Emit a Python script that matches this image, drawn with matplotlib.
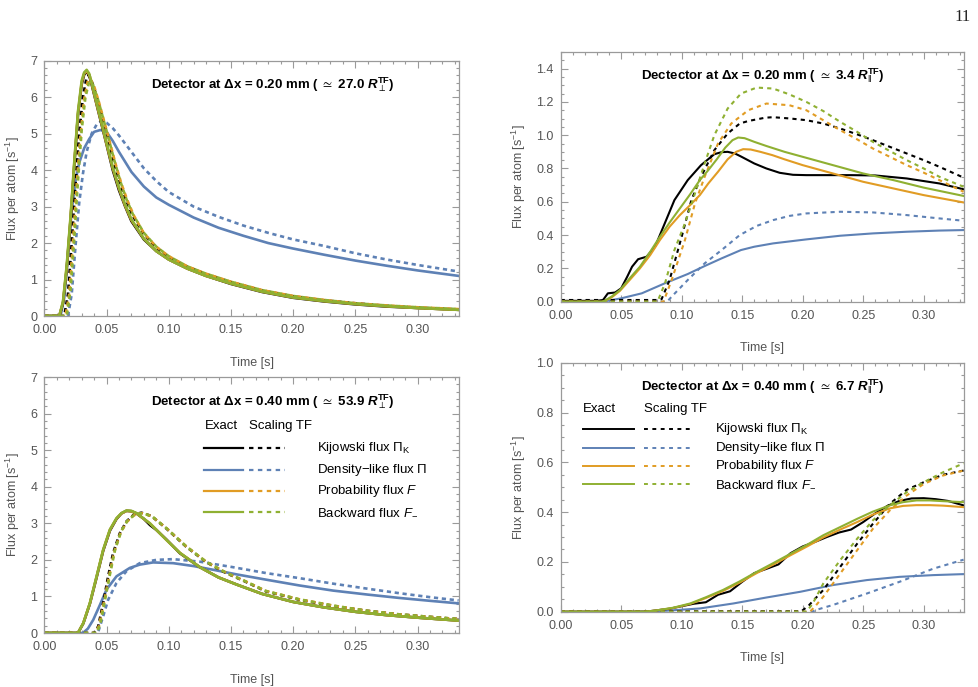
import matplotlib
matplotlib.use("Agg")
import matplotlib.pyplot as plt
from matplotlib.ticker import MultipleLocator, FormatStrFormatter

plt.rcParams['font.family'] = ['Liberation Sans', 'DejaVu Sans']
plt.rcParams['mathtext.fontset'] = 'custom'
plt.rcParams['mathtext.rm'] = 'Liberation Sans'
plt.rcParams['mathtext.it'] = 'Liberation Sans:italic'
plt.rcParams['mathtext.bf'] = 'Liberation Sans:bold'
plt.rcParams['mathtext.bfit'] = 'Liberation Sans:bold:italic'
plt.rcParams['mathtext.fallback'] = 'stixsans'

# ---- panel 1: dx = 0.20 mm, perpendicular ----
p1_kij_exact_t = [0, 0.012, 0.015, 0.018, 0.021, 0.024, 0.027, 0.030, 0.032, 0.034, 0.036, 0.038, 0.042, 0.046, 0.050, 0.055,
                  0.060, 0.065, 0.070, 0.080, 0.090, 0.100, 0.115, 0.130, 0.150, 0.175, 0.200, 0.225, 0.250, 0.275, 0.300, 0.333]
p1_kij_exact_f = [0, 0, 0.35, 1.3, 2.6, 4.1, 5.5, 6.35, 6.62, 6.7, 6.6, 6.35, 5.8, 5.25, 4.7, 4.0,
                  3.45, 3.0, 2.6, 2.1, 1.78, 1.55, 1.3, 1.1, 0.88, 0.66, 0.5, 0.4, 0.32, 0.26, 0.22, 0.17]
p1_den_exact_t = [0, 0.013, 0.016, 0.019, 0.022, 0.025, 0.028, 0.032, 0.036, 0.040, 0.045, 0.050, 0.055, 0.060, 0.070,
                  0.080, 0.090, 0.100, 0.120, 0.140, 0.160, 0.180, 0.200, 0.225, 0.250, 0.275, 0.300, 0.333]
p1_den_exact_f = [0, 0, 0.5, 1.7, 2.9, 3.7, 4.2, 4.6, 4.85, 5.05, 5.1, 5.05, 4.8, 4.5, 3.95,
                  3.55, 3.25, 3.05, 2.7, 2.42, 2.2, 2.0, 1.85, 1.68, 1.52, 1.38, 1.25, 1.1]
p1_prob_exact_t = p1_kij_exact_t
p1_prob_exact_f = [0, 0, 0.38, 1.35, 2.65, 4.15, 5.55, 6.4, 6.65, 6.72, 6.62, 6.38, 5.82, 5.28, 4.72, 4.05,
                   3.5, 3.02, 2.63, 2.12, 1.78, 1.55, 1.3, 1.1, 0.89, 0.67, 0.51, 0.41, 0.33, 0.27, 0.22, 0.17]
p1_back_exact_t = p1_kij_exact_t
p1_back_exact_f = [0, 0, 0.4, 1.4, 2.7, 4.2, 5.6, 6.45, 6.68, 6.75, 6.65, 6.4, 5.85, 5.3, 4.75, 4.08,
                   3.52, 3.05, 2.65, 2.12, 1.78, 1.55, 1.3, 1.1, 0.89, 0.67, 0.51, 0.41, 0.33, 0.27, 0.22, 0.17]
p1_kij_scal_t = [0, 0.016, 0.019, 0.022, 0.025, 0.028, 0.031, 0.034, 0.036, 0.039, 0.043, 0.047, 0.051, 0.056, 0.061,
                 0.066, 0.071, 0.080, 0.090, 0.100, 0.115, 0.130, 0.150, 0.175, 0.200, 0.225, 0.250, 0.275, 0.300, 0.333]
p1_kij_scal_f = [0, 0, 0.6, 2.0, 3.6, 5.0, 6.0, 6.55, 6.6, 6.35, 5.9, 5.4, 4.9, 4.2, 3.6,
                 3.15, 2.75, 2.25, 1.88, 1.62, 1.35, 1.15, 0.93, 0.7, 0.54, 0.43, 0.35, 0.28, 0.23, 0.18]
p1_den_scal_t = [0, 0.019, 0.022, 0.025, 0.028, 0.031, 0.034, 0.038, 0.042, 0.046, 0.050, 0.055, 0.060, 0.070, 0.080,
                 0.090, 0.100, 0.120, 0.140, 0.160, 0.180, 0.200, 0.225, 0.250, 0.275, 0.300, 0.333]
p1_den_scal_f = [0, 0, 0.6, 1.9, 3.1, 3.9, 4.5, 5.0, 5.25, 5.35, 5.3, 5.15, 4.95, 4.5, 4.05,
                 3.7, 3.4, 3.0, 2.72, 2.48, 2.28, 2.1, 1.92, 1.72, 1.55, 1.4, 1.22]
p1_prob_scal_t = [0, 0.017, 0.020, 0.023, 0.026, 0.029, 0.032, 0.035, 0.037, 0.040, 0.044, 0.048, 0.052, 0.057, 0.062,
                  0.067, 0.072, 0.080, 0.090, 0.100, 0.115, 0.130, 0.150, 0.175, 0.200, 0.225, 0.250, 0.275, 0.300, 0.333]
p1_prob_scal_f = [0, 0, 0.6, 2.0, 3.6, 4.95, 5.95, 6.45, 6.5, 6.3, 5.85, 5.35, 4.85, 4.2, 3.62,
                  3.15, 2.75, 2.27, 1.9, 1.64, 1.36, 1.16, 0.94, 0.71, 0.55, 0.44, 0.35, 0.29, 0.24, 0.19]
p1_back_scal_t = [0, 0.018, 0.021, 0.024, 0.027, 0.030, 0.033, 0.036, 0.039, 0.043, 0.047, 0.051, 0.056, 0.061,
                  0.066, 0.071, 0.080, 0.090, 0.100, 0.115, 0.130, 0.150, 0.175, 0.200, 0.225, 0.250, 0.275, 0.300, 0.333]
p1_back_scal_f = [0, 0, 0.7, 2.1, 3.7, 5.1, 6.0, 6.42, 6.35, 5.95, 5.45, 4.95, 4.3, 3.7,
                  3.2, 2.8, 2.28, 1.9, 1.64, 1.36, 1.16, 0.94, 0.71, 0.55, 0.44, 0.35, 0.29, 0.24, 0.19]

# ---- panel 2: dx = 0.20 mm, parallel ----
p2_kij_exact_t = [0, 0.030, 0.035, 0.039, 0.045, 0.050, 0.055, 0.059, 0.064, 0.071, 0.078, 0.086, 0.094, 0.105, 0.116,
                  0.127, 0.133, 0.138, 0.144, 0.149, 0.160, 0.170, 0.181, 0.192, 0.203, 0.220, 0.240, 0.260, 0.286, 0.313, 0.333]
p2_kij_exact_f = [0.005, 0.005, 0.01, 0.05, 0.055, 0.08, 0.15, 0.21, 0.255, 0.27, 0.33, 0.47, 0.61, 0.73, 0.82,
                  0.886, 0.898, 0.9, 0.89, 0.872, 0.83, 0.8, 0.774, 0.762, 0.76, 0.76, 0.76, 0.758, 0.74, 0.71, 0.675]
p2_den_exact_t = [0, 0.035, 0.050, 0.067, 0.086, 0.105, 0.119, 0.133, 0.149, 0.160, 0.1756, 0.203, 0.231, 0.258, 0.286, 0.313, 0.333]
p2_den_exact_f = [0, 0, 0.02, 0.05, 0.11, 0.166, 0.214, 0.26, 0.31, 0.33, 0.35, 0.374, 0.396, 0.41, 0.42, 0.427, 0.43]
p2_prob_exact_t = [0, 0.035, 0.042, 0.049, 0.057, 0.0655, 0.074, 0.082, 0.090, 0.0985, 0.107, 0.115, 0.122, 0.130,
                   0.138, 0.145, 0.1508, 0.157, 0.165, 0.175, 0.185, 0.200, 0.225, 0.250, 0.275, 0.300, 0.333]
p2_prob_exact_f = [0, 0, 0.025, 0.065, 0.13, 0.2, 0.28, 0.37, 0.45, 0.52, 0.58, 0.64, 0.71, 0.78,
                   0.855, 0.9, 0.916, 0.914, 0.9, 0.88, 0.855, 0.82, 0.77, 0.72, 0.68, 0.64, 0.596]
p2_back_exact_t = [0, 0.035, 0.042, 0.049, 0.057, 0.0655, 0.074, 0.082, 0.090, 0.0985, 0.107, 0.115, 0.122, 0.129,
                   0.136, 0.142, 0.1467, 0.152, 0.160, 0.170, 0.185, 0.200, 0.225, 0.250, 0.275, 0.300, 0.333]
p2_back_exact_f = [0, 0, 0.03, 0.07, 0.14, 0.21, 0.3, 0.39, 0.475, 0.56, 0.645, 0.73, 0.79, 0.855,
                   0.925, 0.97, 0.986, 0.982, 0.96, 0.935, 0.9, 0.87, 0.82, 0.77, 0.73, 0.685, 0.635]
p2_kij_scal_t = [0, 0.080, 0.0834, 0.090, 0.100, 0.108, 0.116, 0.127, 0.138, 0.148, 0.155, 0.169, 0.1756, 0.190,
                 0.203, 0.217, 0.231, 0.245, 0.258, 0.272, 0.286, 0.300, 0.313, 0.333]
p2_kij_scal_f = [0.01, 0.01, 0.015, 0.13, 0.39, 0.61, 0.75, 0.91, 1.01, 1.07, 1.085, 1.105, 1.108, 1.1,
                 1.09, 1.07, 1.04, 1.005, 0.97, 0.93, 0.89, 0.85, 0.81, 0.745]
p2_den_scal_t = [0, 0.088, 0.0917, 0.105, 0.119, 0.133, 0.148, 0.162, 0.1756, 0.189, 0.203, 0.231, 0.258, 0.286, 0.313, 0.333]
p2_den_scal_f = [0, 0, 0.03, 0.13, 0.23, 0.31, 0.4, 0.455, 0.49, 0.515, 0.53, 0.54, 0.536, 0.52, 0.5, 0.486]
p2_prob_scal_t = [0, 0.085, 0.0917, 0.1027, 0.111, 0.119, 0.130, 0.141, 0.155, 0.170, 0.189, 0.203, 0.217, 0.231,
                  0.245, 0.258, 0.272, 0.286, 0.300, 0.313, 0.333]
p2_prob_scal_f = [0, 0, 0.13, 0.37, 0.59, 0.75, 0.95, 1.07, 1.15, 1.19, 1.18, 1.15, 1.09, 1.03,
                  0.975, 0.92, 0.87, 0.82, 0.775, 0.73, 0.66]
p2_back_scal_t = [0, 0.080, 0.0862, 0.094, 0.1027, 0.111, 0.119, 0.127, 0.138, 0.149, 0.162, 0.1756, 0.189, 0.203,
                  0.217, 0.231, 0.245, 0.258, 0.272, 0.286, 0.300, 0.313, 0.333]
p2_back_scal_f = [0, 0, 0.11, 0.31, 0.47, 0.65, 0.83, 1.0, 1.16, 1.25, 1.286, 1.28, 1.245, 1.2,
                  1.145, 1.08, 1.02, 0.96, 0.905, 0.85, 0.8, 0.75, 0.69]

# ---- panel 3: dx = 0.40 mm, perpendicular ----
p3_kij_exact_t = [0, 0.027, 0.0313, 0.0366, 0.042, 0.0473, 0.0527, 0.058, 0.062, 0.066, 0.070, 0.074, 0.080, 0.085,
                  0.090, 0.098, 0.109, 0.125, 0.140, 0.155, 0.175, 0.200, 0.225, 0.250, 0.275, 0.300, 0.333]
p3_kij_exact_f = [0, 0, 0.26, 0.8, 1.52, 2.25, 2.8, 3.12, 3.27, 3.34, 3.33, 3.27, 3.12, 2.95,
                  2.82, 2.56, 2.18, 1.8, 1.52, 1.32, 1.07, 0.85, 0.7, 0.58, 0.49, 0.42, 0.34]
p3_den_exact_t = [0, 0.031, 0.035, 0.0393, 0.0447, 0.050, 0.058, 0.0687, 0.0767, 0.0874, 0.1035, 0.120, 0.1356,
                  0.155, 0.178, 0.205, 0.232, 0.260, 0.285, 0.310, 0.333]
p3_den_exact_f = [0, 0, 0.12, 0.36, 0.77, 1.19, 1.55, 1.78, 1.87, 1.93, 1.91, 1.83, 1.73,
                  1.6, 1.46, 1.3, 1.16, 1.05, 0.96, 0.88, 0.81]
p3_prob_exact_t = [0, 0.027, 0.0313, 0.0366, 0.042, 0.0473, 0.0527, 0.058, 0.062, 0.066, 0.070, 0.074, 0.0848,
                   0.098, 0.109, 0.125, 0.140, 0.155, 0.175, 0.200, 0.225, 0.250, 0.275, 0.300, 0.333]
p3_prob_exact_f = [0, 0, 0.27, 0.81, 1.54, 2.27, 2.82, 3.13, 3.27, 3.34, 3.33, 3.27, 3.0,
                   2.55, 2.19, 1.8, 1.52, 1.32, 1.07, 0.85, 0.7, 0.58, 0.49, 0.42, 0.34]
p3_back_exact_t = p3_prob_exact_t
p3_back_exact_f = [0, 0, 0.27, 0.82, 1.55, 2.28, 2.83, 3.14, 3.28, 3.35, 3.34, 3.28, 3.0,
                   2.55, 2.19, 1.8, 1.52, 1.32, 1.07, 0.85, 0.7, 0.58, 0.49, 0.42, 0.34]
p3_kij_scal_t = [0, 0.040, 0.0433, 0.0473, 0.0513, 0.0553, 0.0607, 0.066, 0.072, 0.078, 0.086, 0.098, 0.114, 0.130,
                 0.146, 0.160, 0.178, 0.205, 0.232, 0.2586, 0.285, 0.310, 0.333]
p3_kij_scal_f = [0, 0, 0.18, 0.82, 1.55, 2.19, 2.73, 3.05, 3.24, 3.29, 3.2, 2.86, 2.36, 1.94,
                 1.64, 1.43, 1.14, 0.91, 0.74, 0.61, 0.51, 0.44, 0.38]
p3_den_scal_t = [0, 0.043, 0.0473, 0.0513, 0.058, 0.066, 0.0767, 0.090, 0.1035, 0.125, 0.1516, 0.178, 0.205, 0.232,
                 0.260, 0.285, 0.310, 0.333]
p3_den_scal_f = [0, 0, 0.46, 0.91, 1.37, 1.69, 1.91, 2.0, 2.02, 1.95, 1.8, 1.64, 1.5, 1.35,
                 1.21, 1.09, 0.98, 0.89]
p3_prob_scal_t = [0, 0.041, 0.044, 0.048, 0.052, 0.056, 0.061, 0.066, 0.072, 0.078, 0.086, 0.098, 0.114, 0.130,
                  0.146, 0.160, 0.178, 0.205, 0.232, 0.2586, 0.285, 0.310, 0.333]
p3_prob_scal_f = [0, 0, 0.2, 0.85, 1.55, 2.2, 2.72, 3.03, 3.22, 3.28, 3.2, 2.87, 2.37, 1.95,
                  1.65, 1.44, 1.15, 0.92, 0.75, 0.61, 0.51, 0.44, 0.38]
p3_back_scal_t = [0, 0.042, 0.045, 0.049, 0.053, 0.057, 0.062, 0.067, 0.072, 0.077, 0.080, 0.087, 0.098, 0.114,
                  0.130, 0.146, 0.160, 0.178, 0.205, 0.232, 0.2586, 0.285, 0.310, 0.333]
p3_back_scal_f = [0, 0, 0.25, 0.95, 1.65, 2.3, 2.8, 3.08, 3.22, 3.27, 3.27, 3.18, 2.87, 2.37,
                  1.95, 1.65, 1.44, 1.15, 0.92, 0.75, 0.61, 0.51, 0.44, 0.38]

# ---- panel 4: dx = 0.40 mm, parallel ----
p4_kij_exact_t = [0, 0.07, 0.08, 0.09, 0.10, 0.11, 0.12, 0.13, 0.14, 0.15, 0.16, 0.17, 0.18, 0.19, 0.20,
                  0.21, 0.22, 0.23, 0.24, 0.25, 0.26, 0.27, 0.28, 0.29, 0.30, 0.31, 0.32, 0.333]
p4_kij_exact_f = [0, 0, 0.006, 0.012, 0.022, 0.032, 0.038, 0.068, 0.082, 0.12, 0.155, 0.172, 0.19, 0.235, 0.262,
                  0.28, 0.3, 0.318, 0.33, 0.36, 0.395, 0.425, 0.445, 0.455, 0.456, 0.452, 0.445, 0.427]
p4_den_exact_t = [0, 0.06, 0.0875, 0.115, 0.1426, 0.17, 0.198, 0.225, 0.253, 0.28, 0.308, 0.333]
p4_den_exact_f = [0, 0, 0.004, 0.013, 0.033, 0.057, 0.08, 0.107, 0.127, 0.14, 0.147, 0.151]
p4_prob_exact_t = [0, 0.07, 0.079, 0.093, 0.107, 0.12, 0.134, 0.148, 0.162, 0.176, 0.19, 0.204, 0.217, 0.231,
                   0.245, 0.258, 0.272, 0.283, 0.294, 0.305, 0.316, 0.333]
p4_prob_exact_f = [0, 0, 0.005, 0.015, 0.031, 0.055, 0.083, 0.117, 0.155, 0.19, 0.227, 0.263, 0.298, 0.33,
                   0.36, 0.39, 0.415, 0.425, 0.428, 0.428, 0.426, 0.42]
p4_back_exact_t = p4_prob_exact_t
p4_back_exact_f = [0, 0, 0.005, 0.016, 0.033, 0.058, 0.087, 0.122, 0.16, 0.196, 0.233, 0.27, 0.307, 0.34,
                   0.373, 0.402, 0.427, 0.44, 0.447, 0.447, 0.444, 0.44]
p4_kij_scal_t = [0, 0.199, 0.205, 0.217, 0.231, 0.245, 0.258, 0.272, 0.286, 0.300, 0.316, 0.333]
p4_kij_scal_f = [0.002, 0.002, 0.025, 0.087, 0.18, 0.273, 0.353, 0.433, 0.49, 0.52, 0.55, 0.567]
p4_den_scal_t = [0, 0.208, 0.211, 0.225, 0.253, 0.28, 0.308, 0.333]
p4_den_scal_f = [0, 0, 0.007, 0.027, 0.073, 0.12, 0.173, 0.209]
p4_prob_scal_t = [0, 0.206, 0.210, 0.217, 0.231, 0.245, 0.258, 0.272, 0.286, 0.300, 0.316, 0.333]
p4_prob_scal_f = [0, 0, 0.02, 0.06, 0.153, 0.247, 0.333, 0.407, 0.467, 0.513, 0.547, 0.567]
p4_back_scal_t = [0, 0.203, 0.208, 0.217, 0.231, 0.245, 0.258, 0.272, 0.286, 0.300, 0.316, 0.333]
p4_back_scal_f = [0, 0, 0.03, 0.113, 0.207, 0.293, 0.367, 0.427, 0.48, 0.52, 0.56, 0.596]

flux_names = ['Kijowski flux $\\Pi_{\\mathrm{K}}$', 'Density\u2212like flux $\\Pi$',
              'Probability flux $F$', 'Backward flux $F_{\\!-}$']
colors = ['black', '#5E81B5', '#E19C24', '#8FB032']

titles = ['Detector at \u0394x = 0.20 mm ( $\\simeq$ 27.0 $\\mathbfit{R}_{\\perp}^{\\mathbf{TF}}$)',
          'Dectector at \u0394x = 0.20 mm ( $\\simeq$ 3.4 $\\mathbfit{R}_{\\|}^{\\mathbf{TF}}$)',
          'Detector at \u0394x = 0.40 mm ( $\\simeq$ 53.9 $\\mathbfit{R}_{\\perp}^{\\mathbf{TF}}$)',
          'Dectector at \u0394x = 0.40 mm ( $\\simeq$ 6.7 $\\mathbfit{R}_{\\|}^{\\mathbf{TF}}$)']

panels = [
    [(p1_kij_exact_t, p1_kij_exact_f, p1_kij_scal_t, p1_kij_scal_f),
     (p1_den_exact_t, p1_den_exact_f, p1_den_scal_t, p1_den_scal_f),
     (p1_prob_exact_t, p1_prob_exact_f, p1_prob_scal_t, p1_prob_scal_f),
     (p1_back_exact_t, p1_back_exact_f, p1_back_scal_t, p1_back_scal_f)],
    [(p2_kij_exact_t, p2_kij_exact_f, p2_kij_scal_t, p2_kij_scal_f),
     (p2_den_exact_t, p2_den_exact_f, p2_den_scal_t, p2_den_scal_f),
     (p2_prob_exact_t, p2_prob_exact_f, p2_prob_scal_t, p2_prob_scal_f),
     (p2_back_exact_t, p2_back_exact_f, p2_back_scal_t, p2_back_scal_f)],
    [(p3_kij_exact_t, p3_kij_exact_f, p3_kij_scal_t, p3_kij_scal_f),
     (p3_den_exact_t, p3_den_exact_f, p3_den_scal_t, p3_den_scal_f),
     (p3_prob_exact_t, p3_prob_exact_f, p3_prob_scal_t, p3_prob_scal_f),
     (p3_back_exact_t, p3_back_exact_f, p3_back_scal_t, p3_back_scal_f)],
    [(p4_kij_exact_t, p4_kij_exact_f, p4_kij_scal_t, p4_kij_scal_f),
     (p4_den_exact_t, p4_den_exact_f, p4_den_scal_t, p4_den_scal_f),
     (p4_prob_exact_t, p4_prob_exact_f, p4_prob_scal_t, p4_prob_scal_f),
     (p4_back_exact_t, p4_back_exact_f, p4_back_scal_t, p4_back_scal_f)],
]

fig = plt.figure(figsize=(9.79, 6.87), dpi=100)
boxes = [[0.0453, 0.540, 0.4236, 0.3716],
         [0.5727, 0.5609, 0.4120, 0.3635],
         [0.0453, 0.0786, 0.4236, 0.3726],
         [0.5727, 0.1096, 0.4120, 0.3624]]
ymax = [7, 1.5, 7, 1.0]
ymaj = [1, 0.2, 1, 0.2]
ymin = [0.2, 0.05, 0.2, 0.05]
yfmt = ['%d', '%.1f', '%d', '%.1f']
widths = [1.9, 1.5, 1.9, 1.5]
title_x = [0.55, 0.50, 0.55, 0.50]
frame = '#9a9a9a'

axes = []
for i in range(4):
    ax = fig.add_axes(boxes[i])
    axes.append(ax)
    lw = widths[i]
    dots = (0, (1.6, 1.4)) if lw > 1.8 else (0, (2.0, 2.0))
    # blue first, then black, orange, green on top
    for k in [1, 0, 2, 3]:
        te, fe, ts, fs = panels[i][k]
        ax.plot(te, fe, color=colors[k], lw=lw, solid_joinstyle='round')
        ax.plot(ts, fs, color=colors[k], lw=lw, ls=dots)
    ax.set_xlim(0, 1 / 3)
    ax.set_ylim(0, ymax[i])
    ax.xaxis.set_major_locator(MultipleLocator(0.05))
    ax.xaxis.set_minor_locator(MultipleLocator(0.01))
    ax.yaxis.set_major_locator(MultipleLocator(ymaj[i]))
    ax.yaxis.set_minor_locator(MultipleLocator(ymin[i]))
    ax.xaxis.set_major_formatter(FormatStrFormatter('%.2f'))
    ax.yaxis.set_major_formatter(FormatStrFormatter(yfmt[i]))
    ax.tick_params(which='both', direction='in', top=True, right=True, color=frame,
                   labelcolor='#555555', labelsize=9, width=0.8)
    ax.tick_params(which='major', length=5)
    ax.tick_params(which='minor', length=2.5)
    ax.tick_params(axis='x', which='major', pad=6)
    ax.tick_params(axis='y', which='major', pad=5)
    for s in ax.spines.values():
        s.set_color(frame)
        s.set_linewidth(0.9)
    ax.set_xlabel('Time [s]', color='#555555', fontsize=9)
    ax.set_ylabel('Flux per atom [s$^{-1}$]', color='#555555', fontsize=9)
    ax.xaxis.set_label_coords(0.5, -0.16)
    ax.yaxis.set_label_coords(-0.055 if i % 2 == 0 else -0.082, 0.5)
    ax.text(title_x[i], 0.905, titles[i], transform=ax.transAxes, ha='center', va='center',
            fontsize=9.5, fontweight='bold')


def draw_key(ax, x_ex, x_sc, x_lab, y_head, rows, seg_ex, seg_sc, lw, dots):
    ax.text(x_ex, y_head, 'Exact', transform=ax.transAxes, va='center', fontsize=9.5)
    ax.text(x_sc, y_head, 'Scaling TF', transform=ax.transAxes, va='center', fontsize=9.5)
    for k, y in enumerate(rows):
        ax.plot(seg_ex, [y, y], transform=ax.transAxes, color=colors[k], lw=lw, clip_on=False)
        ax.plot(seg_sc, [y, y], transform=ax.transAxes, color=colors[k], lw=lw, ls=dots, clip_on=False)
        ax.text(x_lab, y, flux_names[k], transform=ax.transAxes, va='center', fontsize=9.5)


draw_key(axes[2], 0.386, 0.494, 0.658, 0.81, [0.7215, 0.638, 0.556, 0.474],
         [0.386, 0.479], [0.494, 0.580], 1.6, (0, (2.0, 2.0)))
draw_key(axes[3], 0.055, 0.206, 0.383, 0.814, [0.7325, 0.6586, 0.5851, 0.5116],
         [0.055, 0.1825], [0.206, 0.326], 1.4, (0, (2.0, 2.3)))

fig.text(963 / 979, 1 - 17 / 687, '11', ha='center', va='center',
         family='Liberation Serif', fontsize=12, color='#222222')

fig.savefig('out.png', dpi=100)
